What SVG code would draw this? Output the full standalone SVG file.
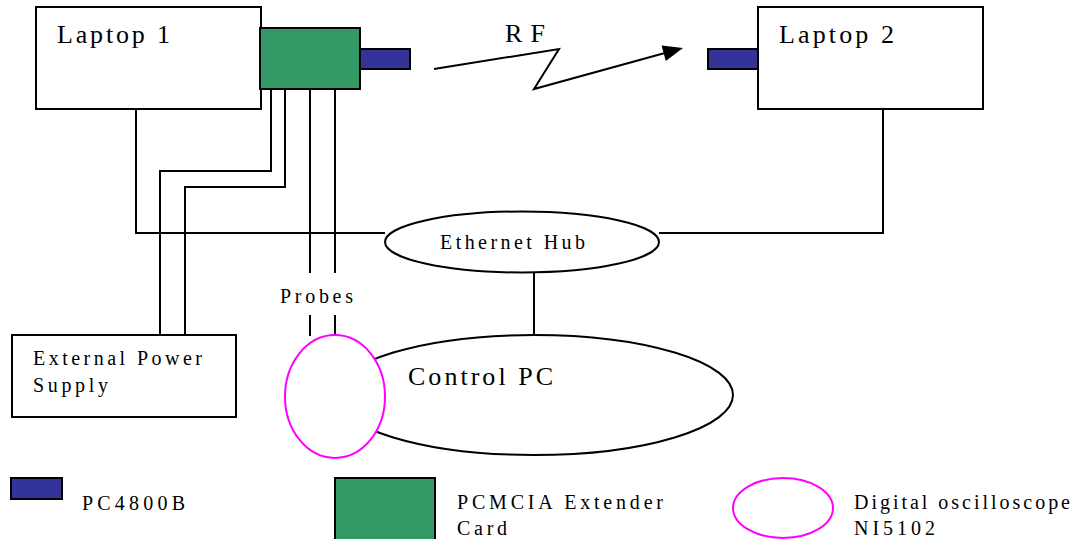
<svg xmlns="http://www.w3.org/2000/svg" width="1077" height="539" viewBox="0 0 1077 539">
<style>
.box{fill:#fff;stroke:#000;stroke-width:2}
.card{fill:#339966;stroke:#000;stroke-width:2}
.pc{fill:#333399;stroke:#000;stroke-width:2}
.osc{fill:#fff;stroke:#ff00ff;stroke-width:2}
.w{fill:none;stroke:#000;stroke-width:2}
text{font-family:"Liberation Serif","Times New Roman",Times,"DejaVu Serif",serif;fill:#000}
.big{font-size:26px}
.sm{font-size:20px}
</style>
<g id="connectors">
<polyline class="w" points="136,109 136,233 385,233"/>
<polyline class="w" points="659,233 883,233 883,109"/>
<line class="w" x1="534" y1="273" x2="534" y2="335"/>
<polyline class="w" points="271,89 271,171 160,171 160,335"/>
<polyline class="w" points="285,89 285,187 185,187 185,335"/>
<line class="w" x1="310" y1="89" x2="310" y2="273"/>
<line class="w" x1="335" y1="89" x2="335" y2="273"/>
<line class="w" x1="310" y1="315" x2="310" y2="336"/>
<line class="w" x1="335" y1="315" x2="335" y2="336"/>
<polyline class="w" points="434,69 559,49 534,89 664,53.3"/>
<polygon points="683,48 665.8,61 661.6,45.6" fill="#000"/>
<text class="big" x="505" y="42" textLength="40" lengthAdjust="spacing">RF</text>
<text class="sm" x="280" y="303" textLength="73" lengthAdjust="spacing">Probes</text>
</g>
<g id="laptop1">
<rect class="box" x="36" y="7" width="225" height="102"/>
<text class="big" x="57" y="43" textLength="113" lengthAdjust="spacing">Laptop 1</text>
</g>
<g id="card">
<rect class="card" x="260" y="28" width="100" height="61"/>
</g>
<g id="pc4800b-1">
<rect class="pc" x="360" y="49" width="50" height="20"/>
</g>
<g id="laptop2">
<rect class="box" x="758" y="7" width="225" height="102"/>
<text class="big" x="779" y="43" textLength="115" lengthAdjust="spacing">Laptop 2</text>
</g>
<g id="pc4800b-2">
<rect class="pc" x="708" y="49" width="50" height="20"/>
</g>
<g id="hub">
<ellipse class="box" cx="522" cy="242" rx="137" ry="30.5"/>
<text class="sm" x="440" y="249" textLength="145" lengthAdjust="spacing">Ethernet Hub</text>
</g>
<g id="power">
<rect class="box" x="12" y="335" width="224" height="82"/>
<text class="sm" x="33" y="365" textLength="169" lengthAdjust="spacing">External Power</text>
<text class="sm" x="33" y="392" textLength="75" lengthAdjust="spacing">Supply</text>
</g>
<g id="controlpc">
<ellipse class="box" cx="534" cy="395" rx="199" ry="60"/>
<text class="big" x="408" y="385" textLength="145" lengthAdjust="spacing">Control PC</text>
</g>
<g id="oscilloscope">
<ellipse class="osc" cx="335" cy="396.5" rx="50" ry="61.5"/>
</g>
<g id="legend">
<rect class="pc" x="11" y="478" width="51" height="21"/>
<text class="sm" x="82" y="510" textLength="103" lengthAdjust="spacing">PC4800B</text>
<rect class="card" x="335" y="478" width="100" height="70"/>
<text class="sm" x="457" y="509" textLength="206" lengthAdjust="spacing">PCMCIA Extender</text>
<text class="sm" x="457" y="535" textLength="50" lengthAdjust="spacing">Card</text>
<ellipse class="osc" cx="783" cy="508" rx="50" ry="30"/>
<text class="sm" x="854" y="509" textLength="216" lengthAdjust="spacing">Digital oscilloscope</text>
<text class="sm" x="854" y="535" textLength="81" lengthAdjust="spacing">NI5102</text>
</g>
</svg>
